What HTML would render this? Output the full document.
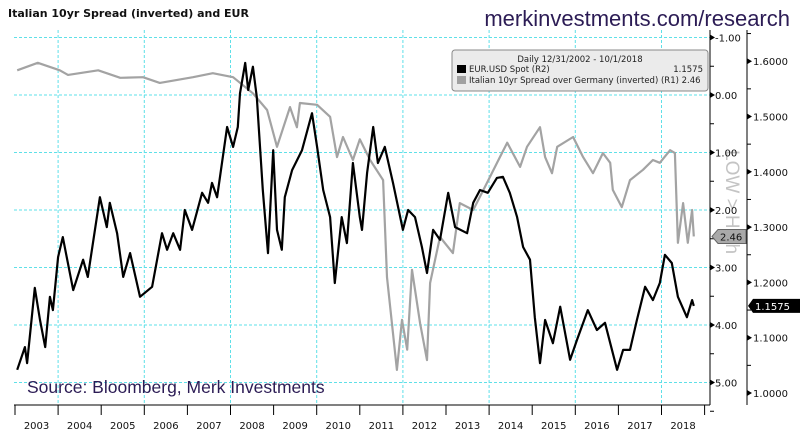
<!DOCTYPE html>
<html><head><meta charset="utf-8"><style>
body{margin:0;background:#fff;}
svg text{font-family:"DejaVu Sans","Liberation Sans",sans-serif;}
</style></head><body>
<svg id="chart" width="800" height="439" viewBox="0 0 800 439">
<text x="8" y="17" font-size="11" font-weight="bold" fill="#111">Italian 10yr Spread (inverted) and EUR</text>
<text x="790" y="26" text-anchor="end" font-size="22" fill="#2c1c55" style="font-family:'Liberation Sans',sans-serif">merkinvestments.com/research</text>
<g id="grid"></g>
<g id="series"></g>
<text transform="translate(726,150) rotate(90)" font-size="19" fill="#c4c4c4" style="font-family:'Liberation Sans',sans-serif">LOW &gt; High</text>
<g id="axes"></g>
<text x="27" y="393" font-size="17.5" fill="#2c1c55" style="font-family:'Liberation Sans',sans-serif">Source: Bloomberg, Merk Investments</text>
<g>
<rect x="452" y="50" width="256" height="41" rx="3" fill="#ebebeb" stroke="#888"/>
<text x="580" y="62" text-anchor="middle" font-size="8.5" fill="#222">Daily 12/31/2002 - 10/1/2018</text>
<rect x="457" y="65" width="9" height="8" fill="#000"/>
<text x="469" y="72" font-size="8.5" fill="#222">EUR.USD Spot (R2)</text>
<text x="703" y="72" text-anchor="end" font-size="8.5" fill="#222">1.1575</text>
<rect x="457" y="76" width="9" height="8" fill="#a0a0a0"/>
<text x="469" y="83" font-size="8.5" fill="#222">Italian 10yr Spread over Germany (inverted) (R1) 2.46</text>
</g>
</svg>
<script>
const eurDates=[2003.05,2003.23,2003.28,2003.46,2003.58,2003.70,2003.81,2003.88,2004.00,2004.11,2004.35,2004.58,2004.69,2004.97,2005.13,2005.20,2005.37,2005.51,2005.67,2005.90,2006.18,2006.41,2006.53,2006.67,2006.83,2006.94,2007.11,2007.34,2007.48,2007.57,2007.69,2007.92,2008.06,2008.17,2008.22,2008.34,2008.41,2008.52,2008.61,2008.75,2008.87,2008.99,2009.08,2009.19,2009.26,2009.43,2009.66,2009.89,2010.01,2010.15,2010.31,2010.42,2010.58,2010.70,2010.84,2011.00,2011.05,2011.17,2011.31,2011.42,2011.58,2011.77,2012.00,2012.12,2012.28,2012.44,2012.56,2012.70,2012.86,2013.05,2013.21,2013.49,2013.63,2013.79,2013.97,2014.18,2014.32,2014.48,2014.65,2014.79,2014.95,2015.06,2015.18,2015.30,2015.48,2015.65,2015.88,2016.04,2016.29,2016.50,2016.69,2016.97,2017.11,2017.27,2017.43,2017.62,2017.80,2017.96,2018.08,2018.24,2018.38,2018.59,2018.71,2018.75];
const eurValues=[1.042,1.083,1.054,1.190,1.132,1.083,1.174,1.150,1.246,1.282,1.186,1.241,1.210,1.354,1.300,1.344,1.289,1.210,1.253,1.174,1.192,1.289,1.259,1.289,1.259,1.331,1.295,1.362,1.344,1.380,1.354,1.481,1.445,1.481,1.542,1.597,1.548,1.590,1.535,1.367,1.253,1.439,1.295,1.259,1.354,1.403,1.439,1.506,1.445,1.367,1.318,1.199,1.318,1.271,1.416,1.318,1.295,1.398,1.481,1.416,1.445,1.380,1.295,1.331,1.318,1.264,1.217,1.295,1.277,1.362,1.300,1.289,1.344,1.367,1.362,1.389,1.391,1.362,1.318,1.264,1.241,1.137,1.054,1.132,1.090,1.156,1.060,1.096,1.150,1.114,1.127,1.042,1.078,1.078,1.132,1.192,1.168,1.199,1.250,1.235,1.174,1.137,1.168,1.1575];
const spreadDates=[2003.05,2003.53,2004.04,2004.23,2004.93,2005.44,2005.97,2006.36,2007.13,2007.59,2008.06,2008.52,2008.85,2009.08,2009.38,2009.54,2009.61,2010.01,2010.31,2010.47,2010.61,2010.84,2011.00,2011.24,2011.54,2011.63,2011.86,2011.98,2012.10,2012.21,2012.40,2012.56,2012.63,2012.86,2013.16,2013.32,2013.63,2013.95,2014.25,2014.42,2014.72,2014.88,2015.18,2015.30,2015.46,2015.58,2015.95,2016.18,2016.41,2016.64,2016.81,2016.87,2017.08,2017.27,2017.57,2017.80,2017.96,2018.20,2018.31,2018.38,2018.50,2018.61,2018.71,2018.75];
const spreadValues=[-0.43,-0.56,-0.43,-0.35,-0.43,-0.30,-0.31,-0.21,-0.31,-0.38,-0.31,-0.03,0.26,0.90,0.21,0.56,0.14,0.17,0.38,1.08,0.73,1.13,0.77,1.13,1.48,3.17,4.78,3.91,4.43,3.04,3.97,4.61,3.27,2.47,2.75,1.88,2.00,1.53,1.08,0.83,1.25,0.90,0.56,1.08,1.36,0.90,0.73,1.08,1.36,1.01,1.18,1.65,1.95,1.48,1.30,1.13,1.18,0.96,1.01,2.57,1.88,2.57,2.00,2.46];
const yearLabels=["2003","2004","2005","2006","2007","2008","2009","2010","2011","2012","2013","2014","2015","2016","2017","2018"];
const r1Ticks=[-1,0,1,2,3,4,5];
const r2Ticks=[1.0,1.1,1.2,1.3,1.4,1.5,1.6];

const NS="http://www.w3.org/2000/svg";
const X0=15,YW=43.1,PL=14,PR=710,PT=30,PB=405;
const xS=d=>X0+(d-2003)*YW;
const yR1=v=>95+v*57.5;
const yR2=v=>393-(v-1.0)*553;
function mk(tag,attrs,parent){const e=document.createElementNS(NS,tag);for(const k in attrs)e.setAttribute(k,attrs[k]);parent.appendChild(e);return e;}
const grid=document.getElementById('grid'),series=document.getElementById('series'),axes=document.getElementById('axes');

r1Ticks.forEach(t=>{
  const l=mk('line',{x1:PL,x2:PR,y1:yR1(t),y2:yR1(t),stroke:'#5ee0e8','stroke-width':1,'stroke-dasharray':'3,2'},grid);
  
  
});
yearLabels.forEach((y,i)=>{
  const yr=+y;
  if(yr%2===0){
    const l=mk('line',{x1:xS(yr),x2:xS(yr),y1:PT,y2:PB,stroke:'#5ee0e8','stroke-width':1,'stroke-dasharray':'3,2'},grid);
    
    
  }
});

function path(dates,vals,ys,color,name){
  let d='';dates.forEach((t,i)=>{d+=(i?'L':'M')+xS(t).toFixed(1)+','+ys(vals[i]).toFixed(1);});
  const p=mk('path',{d:d,fill:'none',stroke:color,'stroke-width':2.2,'stroke-linejoin':'round'},series);
  
  
}
path(spreadDates,spreadValues,yR1,'#a3a3a3','spread-line');
path(eurDates,eurValues,yR2,'#000','eurusd-line');

let a=mk('line',{x1:PL,x2:PR,y1:PB,y2:PB,stroke:'#000','stroke-width':1},axes);


for(let i=0;i<=yearLabels.length;i++){
  const t=mk('line',{x1:xS(2003+i),x2:xS(2003+i),y1:PB,y2:PB+10,stroke:'#000','stroke-width':1},axes);
  
  
}
yearLabels.forEach((y,i)=>{
  const t=mk('text',{x:xS(2003+i+0.5),y:429,'text-anchor':'middle','font-size':10,fill:'#111'},axes);
  t.textContent=y;
  
  
});
a=mk('line',{x1:PR,x2:PR,y1:PT,y2:PB,stroke:'#000','stroke-width':1},axes);


r1Ticks.forEach(t=>{
  const y=yR1(t);
  const m=mk('path',{d:`M${PR},${y-3}L${PR+5},${y}L${PR},${y+3}Z`,fill:'#000'},axes);
  
  
  const mn=mk('line',{x1:PR,x2:PR+4,y1:yR1(t+0.5),y2:yR1(t+0.5),stroke:'#000'},axes);
  
  
  const tx=mk('text',{x:PR+5,y:y+4,'font-size':10,fill:'#111'},axes);
  tx.textContent=(t<0?'-':'')+Math.abs(t).toFixed(2);
  
  
});
const R2X=747;
a=mk('line',{x1:R2X,x2:R2X,y1:PT,y2:PB,stroke:'#000','stroke-width':1},axes);


r2Ticks.forEach(t=>{
  const y=yR2(t);
  const m=mk('path',{d:`M${R2X},${y-3}L${R2X+5},${y}L${R2X},${y+3}Z`,fill:'#000'},axes);
  
  
  const mn=mk('line',{x1:R2X,x2:R2X+4,y1:yR2(t+0.05),y2:yR2(t+0.05),stroke:'#000'},axes);
  
  
  const tx=mk('text',{x:R2X+6,y:y+4,'font-size':10,fill:'#111'},axes);
  tx.textContent=t.toFixed(4);
  
  
});
const sLast=spreadValues[spreadValues.length-1],eLast=eurValues[eurValues.length-1];
let ys=yR1(sLast);
let tg=mk('path',{d:`M${PR+2},${ys}L${PR+8},${ys-7}L${PR+36},${ys-7}L${PR+36},${ys+7}L${PR+8},${ys+7}Z`,fill:'#a9a9a9',stroke:'#666'},axes);


let tt=mk('text',{x:PR+10,y:ys+4,'font-size':10,fill:'#111'},axes);
tt.textContent=sLast.toFixed(2);


ys=yR2(eLast);
tg=mk('path',{d:`M${R2X+1},${ys}L${R2X+6},${ys-7}L800,${ys-7}L800,${ys+7}L${R2X+6},${ys+7}Z`,fill:'#000'},axes);


tt=mk('text',{x:R2X+8,y:ys+4,'font-size':10,fill:'#fff'},axes);
tt.textContent=eLast.toFixed(4);


</script>
</body></html>
